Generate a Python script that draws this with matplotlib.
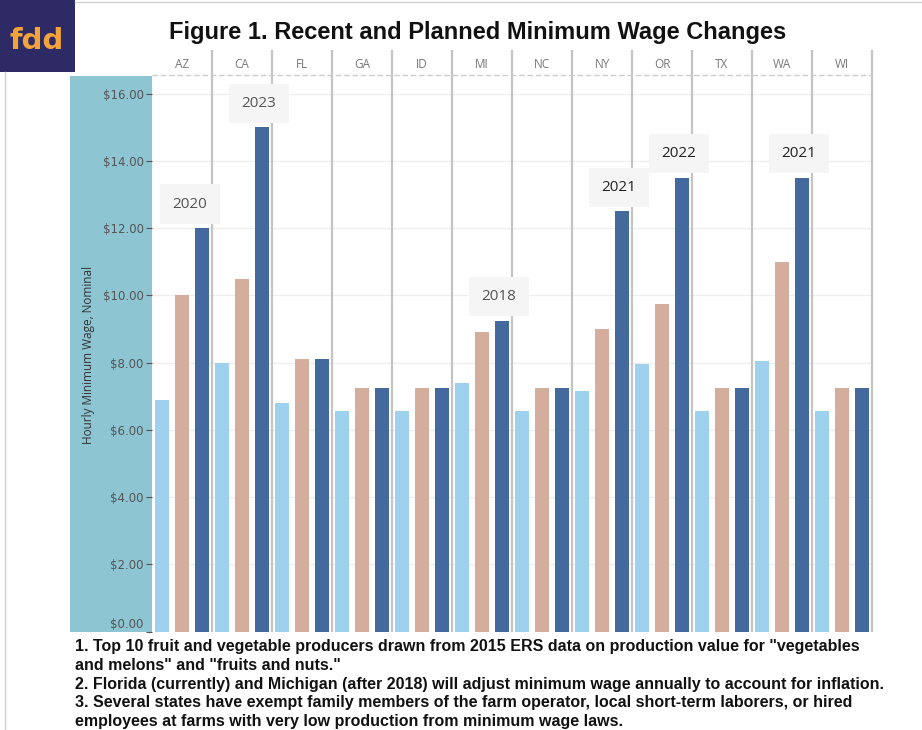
import matplotlib.pyplot as plt
import numpy as np
from matplotlib.lines import Line2D
from matplotlib.patches import Rectangle

STATES = ["AZ", "CA", "FL", "GA", "ID", "MI", "NC", "NY", "OR", "TX", "WA", "WI"]
WAGE_LIGHT = [6.90, 8.00, 6.79, 6.55, 6.55, 7.40, 6.55, 7.15, 7.95, 6.55, 8.05, 6.55]
WAGE_TAN = [10.00, 10.50, 8.10, 7.25, 7.25, 8.90, 7.25, 9.00, 9.75, 7.25, 11.00, 7.25]
WAGE_DARK = [12.00, 15.00, 8.10, 7.25, 7.25, 9.25, 7.25, 12.50, 13.50, 7.25, 13.50, 7.25]
YEAR_LABELS = {"AZ": "2020", "CA": "2023", "MI": "2018", "NY": "2021", "OR": "2022", "WA": "2021"}
Y_TICKS = [0, 2, 4, 6, 8, 10, 12, 14, 16]
FOOTNOTES = [
    '1. Top 10 fruit and vegetable producers drawn from 2015 ERS data on production value for "vegetables',
    'and melons" and "fruits and nuts."',
    "2. Florida (currently) and Michigan (after 2018) will adjust minimum wage annually to account for inflation.",
    "3. Several states have exempt family members of the farm operator, local short-term laborers, or hired",
    "employees at farms with very low production from minimum wage laws.",
]

C_LIGHT = "#9dd1ee"
C_TAN = "#d5ad9d"
C_DARK = "#44699c"
C_PANEL = "#8ec5d3"

W, H = 922, 730
YMAX = 16.56


def fx(px):
    return px / W


def fy(py):
    return 1 - py / H


fig = plt.figure(figsize=(9.22, 7.30), dpi=100)
ax = fig.add_axes([fx(152), fy(631.5), fx(872) - fx(152), fy(75) - fy(631.5)])

# teal y-axis panel and page frame
fig.add_artist(Rectangle((fx(70), fy(632)), fx(152) - fx(70), fy(76) - fy(632),
                         transform=fig.transFigure, facecolor=C_PANEL, edgecolor="none", zorder=-1))
fig.add_artist(Line2D([fx(75), 1], [fy(2), fy(2)], transform=fig.transFigure, color="#cfcfcf", lw=1))
fig.add_artist(Line2D([fx(5), fx(5)], [fy(72), 0], transform=fig.transFigure, color="#cfcfcf", lw=1))

# logo
fig.add_artist(Rectangle((0, fy(72)), fx(75), fy(0) - fy(72), transform=fig.transFigure,
                         facecolor="#2d2a66", edgecolor="none"))
fig.text(fx(37), fy(41), "fdd", ha="center", va="center", fontsize=21, fontweight="bold",
         color="#f2a33a", family="DejaVu Sans")

fig.text(fx(478), fy(32), "Figure 1. Recent and Planned Minimum Wage Changes", ha="center",
         va="center", fontsize=17, fontweight="bold", family="Liberation Sans", color="#111111")

x = np.arange(len(STATES))
bw = 0.225
ax.bar(x + 1 / 6, WAGE_LIGHT, bw, color=C_LIGHT, zorder=3)
ax.bar(x + 0.5, WAGE_TAN, bw, color=C_TAN, zorder=3)
ax.bar(x + 5 / 6, WAGE_DARK, bw, color=C_DARK, zorder=3)

ax.set_xlim(0, len(STATES))
ax.set_ylim(0, YMAX)
for s in ax.spines.values():
    s.set_visible(False)
ax.set_xticks([])
ax.set_yticks(Y_TICKS)
ax.set_yticklabels([f"${v:.2f}" for v in Y_TICKS])
ax.tick_params(axis="y", length=4, color="#555555", labelcolor="#555555", labelsize=8.5, pad=2)
# the $0.00 label sits a little above its tick, clear of the notes below
ax.get_yticklabels()[0].set_verticalalignment("bottom")
for v in Y_TICKS[1:]:
    ax.axhline(v, color="#eeeeee", lw=1, zorder=0)

# column separators and header row
top = YMAX + 25 / 33.6
ax.vlines(np.arange(1, len(STATES) + 1), 0, top, colors="#c4c4c4", lw=1.6, zorder=1, clip_on=False)
ax.plot([0, len(STATES)], [YMAX, YMAX], ls=(0, (4, 2)), color="#cccccc", lw=1, clip_on=False)
for i, st in enumerate(STATES):
    ax.text(i + 0.5, YMAX + 10 / 33.6, st, ha="center", va="center", fontsize=8.5,
            color="#777777", family="Open Sans")

# year labels above the planned wage bars
for i, st in enumerate(STATES):
    if st not in YEAR_LABELS:
        continue
    shift = -0.2 if st == "AZ" else -0.05
    col = "#555555" if st in ("AZ", "CA", "MI") else "#222222"
    ax.text(i + 5 / 6 + shift, WAGE_DARK[i] + 0.72, YEAR_LABELS[st], ha="center", va="center",
            fontsize=11, color=col, family="Open Sans", zorder=5,
            bbox=dict(boxstyle="square,pad=0.8", facecolor="#f5f5f5", edgecolor="none"))

fig.text(fx(88), fy(355), "Hourly Minimum Wage, Nominal", rotation=90, ha="center", va="center",
         fontsize=8.5, color="#333333", family="Open Sans")

for k, line in enumerate(FOOTNOTES):
    fig.text(fx(75), fy(647 + k * 18.6), line, ha="left", va="center", fontsize=11.5,
             fontweight="bold", color="#111111", family="Liberation Sans")

fig.savefig("out.png", dpi=100)
